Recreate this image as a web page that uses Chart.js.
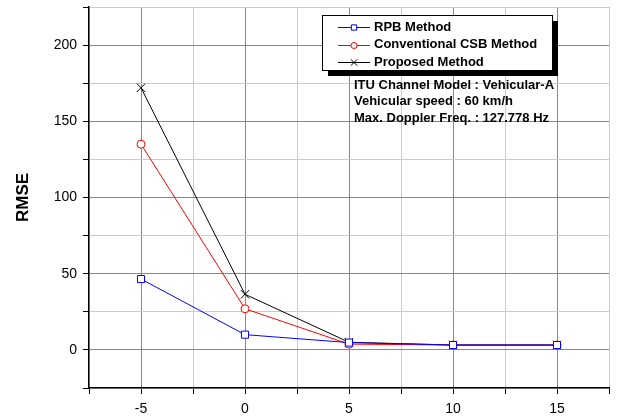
<!DOCTYPE html>
<html>
<head>
<meta charset="utf-8">
<script src="https://cdn.jsdelivr.net/npm/chart.js@4.4.1/dist/chart.umd.min.js"></script>
<style>
  html, body { margin: 0; padding: 0; background: #fff; }
</style>
</head>
<body>
<canvas id="rmseChart" width="627" height="419"></canvas>
<script>
// values
const snrValues = [-5, 0, 5, 10, 15];
const rpbRmse = [46.5, 10, 4.8, 3.2, 3.2];
const csbRmse = [135, 27, 3.8, 3.2, 3.2];
const proposedRmse = [172, 36.5, 5, 3.2, 3.2];
const seriesNames = ['RPB Method', 'Conventional CSB Method', 'Proposed Method'];
const infoLines = [
  'ITU Channel Model : Vehicular-A',
  'Vehicular speed : 60 km/h',
  'Max. Doppler Freq. : 127.778 Hz'
];

const FONT = '"Liberation Sans", Arial, sans-serif';
const MAJOR_GRID = '#888888';
const MINOR_GRID = '#cccccc';

function points(ys) {
  return snrValues.map((x, i) => ({ x: x, y: ys[i] }));
}

function series(label, ys, color, style, radius) {
  return {
    label: label,
    data: points(ys),
    showLine: true,
    borderColor: color,
    borderWidth: 1,
    pointStyle: style,
    pointRadius: radius,
    pointBorderColor: color,
    pointBackgroundColor: '#fff',
    pointBorderWidth: 1
  };
}

// boxed legend with shadow + the channel info text
const boxLegend = {
  id: 'boxLegend',
  afterDraw(chart) {
    const ctx = chart.ctx;
    const bx = 322, by = 15, bw = 230, bh = 55;
    ctx.save();
    ctx.fillStyle = '#000';
    ctx.fillRect(bx + 6, by + 6, bw, bh);
    ctx.fillStyle = '#fff';
    ctx.fillRect(bx, by, bw, bh);
    ctx.strokeStyle = '#000';
    ctx.lineWidth = 1;
    ctx.strokeRect(bx + 0.5, by + 0.5, bw, bh);

    ctx.font = 'bold 13px ' + FONT;
    ctx.textBaseline = 'middle';
    chart.data.datasets.forEach((ds, i) => {
      const y = 27 + i * 17.5;
      ctx.strokeStyle = ds.borderColor;
      ctx.beginPath();
      ctx.moveTo(338, Math.round(y) + 0.5);
      ctx.lineTo(370, Math.round(y) + 0.5);
      ctx.stroke();
      ctx.fillStyle = '#fff';
      ctx.strokeStyle = ds.borderColor;
      Chart.helpers.drawPoint(ctx, {
        pointStyle: ds.pointStyle,
        radius: ds.pointRadius * 0.75,
        rotation: 0,
        borderWidth: 1
      }, 354, Math.round(y) + 0.5);
      ctx.fillStyle = '#000';
      ctx.fillText(ds.label, 374, y);
    });

    ctx.fillStyle = '#000';
    infoLines.forEach((t, i) => {
      ctx.fillText(t, 354, 85 + i * 16.5);
    });
    ctx.restore();
  }
};

new Chart(document.getElementById('rmseChart'), {
  type: 'scatter',
  data: {
    datasets: [
      series(seriesNames[0], rpbRmse, '#0000ff', 'rect', 5),
      series(seriesNames[1], csbRmse, '#ff0000', 'circle', 4),
      series(seriesNames[2], proposedRmse, '#000000', 'crossRot', 6)
    ]
  },
  options: {
    responsive: false,
    animation: false,
    devicePixelRatio: 1,
    layout: { padding: { top: 6, right: 18, left: 0, bottom: 0 } },
    plugins: {
      legend: { display: false },
      tooltip: { enabled: false }
    },
    scales: {
      x: {
        type: 'linear',
        min: -7.5,
        max: 17.5,
        ticks: {
          stepSize: 2.5,
          autoSkip: false,
          maxRotation: 0,
          padding: 7,
          color: '#000',
          font: { family: FONT, size: 14 },
          callback: v => (v % 5 === 0 ? String(v) : '')
        },
        grid: {
          color: c => (c.tick && c.tick.value % 5 === 0 ? MAJOR_GRID : MINOR_GRID),
          tickColor: '#000',
          tickLength: 6,
          lineWidth: 1
        },
        border: { color: '#000', width: 1.5 },
        afterFit: s => { s.height = 31; s.paddingLeft = 0; s.paddingRight = 0; }
      },
      y: {
        min: -25,
        max: 225,
        ticks: {
          stepSize: 25,
          autoSkip: false,
          padding: 6,
          color: '#000',
          font: { family: FONT, size: 14 },
          callback: v => (v % 50 === 0 ? String(v) : '')
        },
        grid: {
          color: c => (c.tick && c.tick.value % 50 === 0 ? MAJOR_GRID : MINOR_GRID),
          tickColor: '#000',
          tickLength: 6,
          lineWidth: 1
        },
        border: { color: '#000', width: 1.5 },
        title: {
          display: true,
          text: 'RMSE',
          color: '#000',
          font: { family: FONT, size: 17, weight: 'bold' },
          padding: { top: 13, bottom: 0 }
        },
        afterFit: s => { s.width = 89; s.paddingTop = 0; s.paddingBottom = 0; }
      }
    }
  },
  plugins: [boxLegend]
});
</script>
</body>
</html>
